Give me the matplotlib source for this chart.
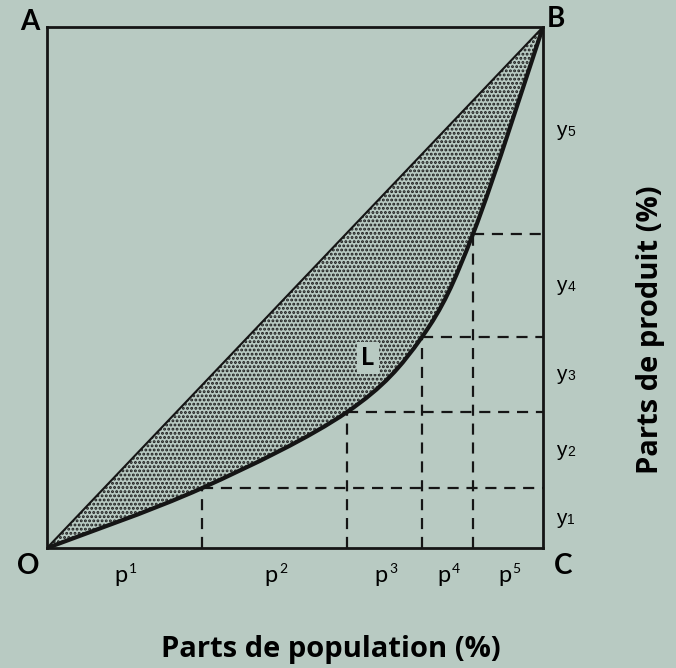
import numpy as np
import matplotlib
matplotlib.use("Agg")
import matplotlib.pyplot as plt
from matplotlib.path import Path
from matplotlib.patches import PathPatch

# cumulative shares (fraction of the square)
cum_pop = [0.0, 0.3125, 0.605, 0.756, 0.859, 1.0]
cum_prod = [0.0, 0.115, 0.261, 0.405, 0.603, 1.0]
p_labels = ["1", "2", "3", "4", "5"]
y_labels = ["1", "2", "3", "4", "5"]

bg = "#b8cac2"
plt.rcParams["font.family"] = ["Lato", "DejaVu Sans"]
plt.rcParams["hatch.linewidth"] = 1.4

fig = plt.figure(figsize=(6.76, 6.68), dpi=100, facecolor=bg)
ax = fig.add_axes([47 / 676, 120 / 668, 496 / 676, 521 / 668])
ax.set_facecolor(bg)
ax.set_xlim(0, 1)
ax.set_ylim(0, 1)
ax.set_xticks([])
ax.set_yticks([])
for s in ax.spines.values():
    s.set_linewidth(2)
    s.set_color("#151515")

# smooth Lorenz curve: Catmull-Rom turned into cubic Bezier segments
pts = np.column_stack([cum_pop, cum_prod])
ext = np.vstack([pts[0], pts, pts[-1]])
verts = [tuple(pts[0])]
codes = [Path.MOVETO]
for i in range(1, len(ext) - 2):
    p0, p1, p2, p3 = ext[i - 1], ext[i], ext[i + 1], ext[i + 2]
    c1 = p1 + (p2 - p0) / 6
    c2 = p2 - (p3 - p1) / 6
    verts += [tuple(c1), tuple(c2), tuple(p2)]
    codes += [Path.CURVE4] * 3
curve = Path(verts, codes)

# stippled area between diagonal and curve
area = Path(verts + [(0, 0), (0, 0)], codes + [Path.LINETO, Path.CLOSEPOLY])
ax.add_patch(PathPatch(area, facecolor="none", edgecolor="#1a1a1a",
                       linewidth=0, hatch="...."))
ax.add_patch(PathPatch(curve, facecolor="none", edgecolor="#151515",
                       linewidth=3, capstyle="round"))
ax.plot([0, 1], [0, 1], color="#151515", lw=1.5)

# dashed guides
for x, y in zip(cum_pop[1:-1], cum_prod[1:-1]):
    ax.plot([x, x], [0, y], color="#151515", lw=1.6, ls=(0, (5, 3.5)))
    ax.plot([x, 1], [y, y], color="#151515", lw=1.6, ls=(0, (5, 3.5)))

# segment labels
for i, lab in enumerate(p_labels):
    xm = (cum_pop[i] + cum_pop[i + 1]) / 2
    ax.text(xm + 0.006, -0.052, "p", ha="right", va="center", fontsize=17, clip_on=False)
    ax.text(xm + 0.009, -0.04, lab, ha="left", va="center", fontsize=10, clip_on=False)
for i, lab in enumerate(y_labels):
    ym = (cum_prod[i] + cum_prod[i + 1]) / 2
    ax.text(1.027, ym, "y", ha="left", va="center", fontsize=15, clip_on=False,
            family="Liberation Sans")
    ax.text(1.049, ym - 0.003, lab, ha="left", va="center", fontsize=10, clip_on=False,
            family="Liberation Sans")

# corner letters
kw = dict(fontsize=20, fontweight="bold", ha="center", va="center", clip_on=False)
ax.text(-0.035, 1.01, "A", **kw)
ax.text(1.025, 1.015, "B", **kw)
ax.text(-0.038, -0.034, "O", **kw)
ax.text(1.04, -0.035, "C", **kw)

ax.text(0.647, 0.365, "L", fontsize=18, fontweight="bold", ha="center", va="center",
        bbox=dict(facecolor=bg, edgecolor="none", pad=3))

lab_kw = dict(fontsize=21, fontweight="bold", family="Open Sans", clip_on=False)
ax.text(0.573, -0.209, "Parts de population (%)", ha="center", va="baseline", **lab_kw)
ax.text(1.217, 0.418, "Parts de produit (%)", ha="center", va="center", rotation=90,
        **lab_kw)

fig.savefig("out.png", dpi=100, facecolor=bg)
